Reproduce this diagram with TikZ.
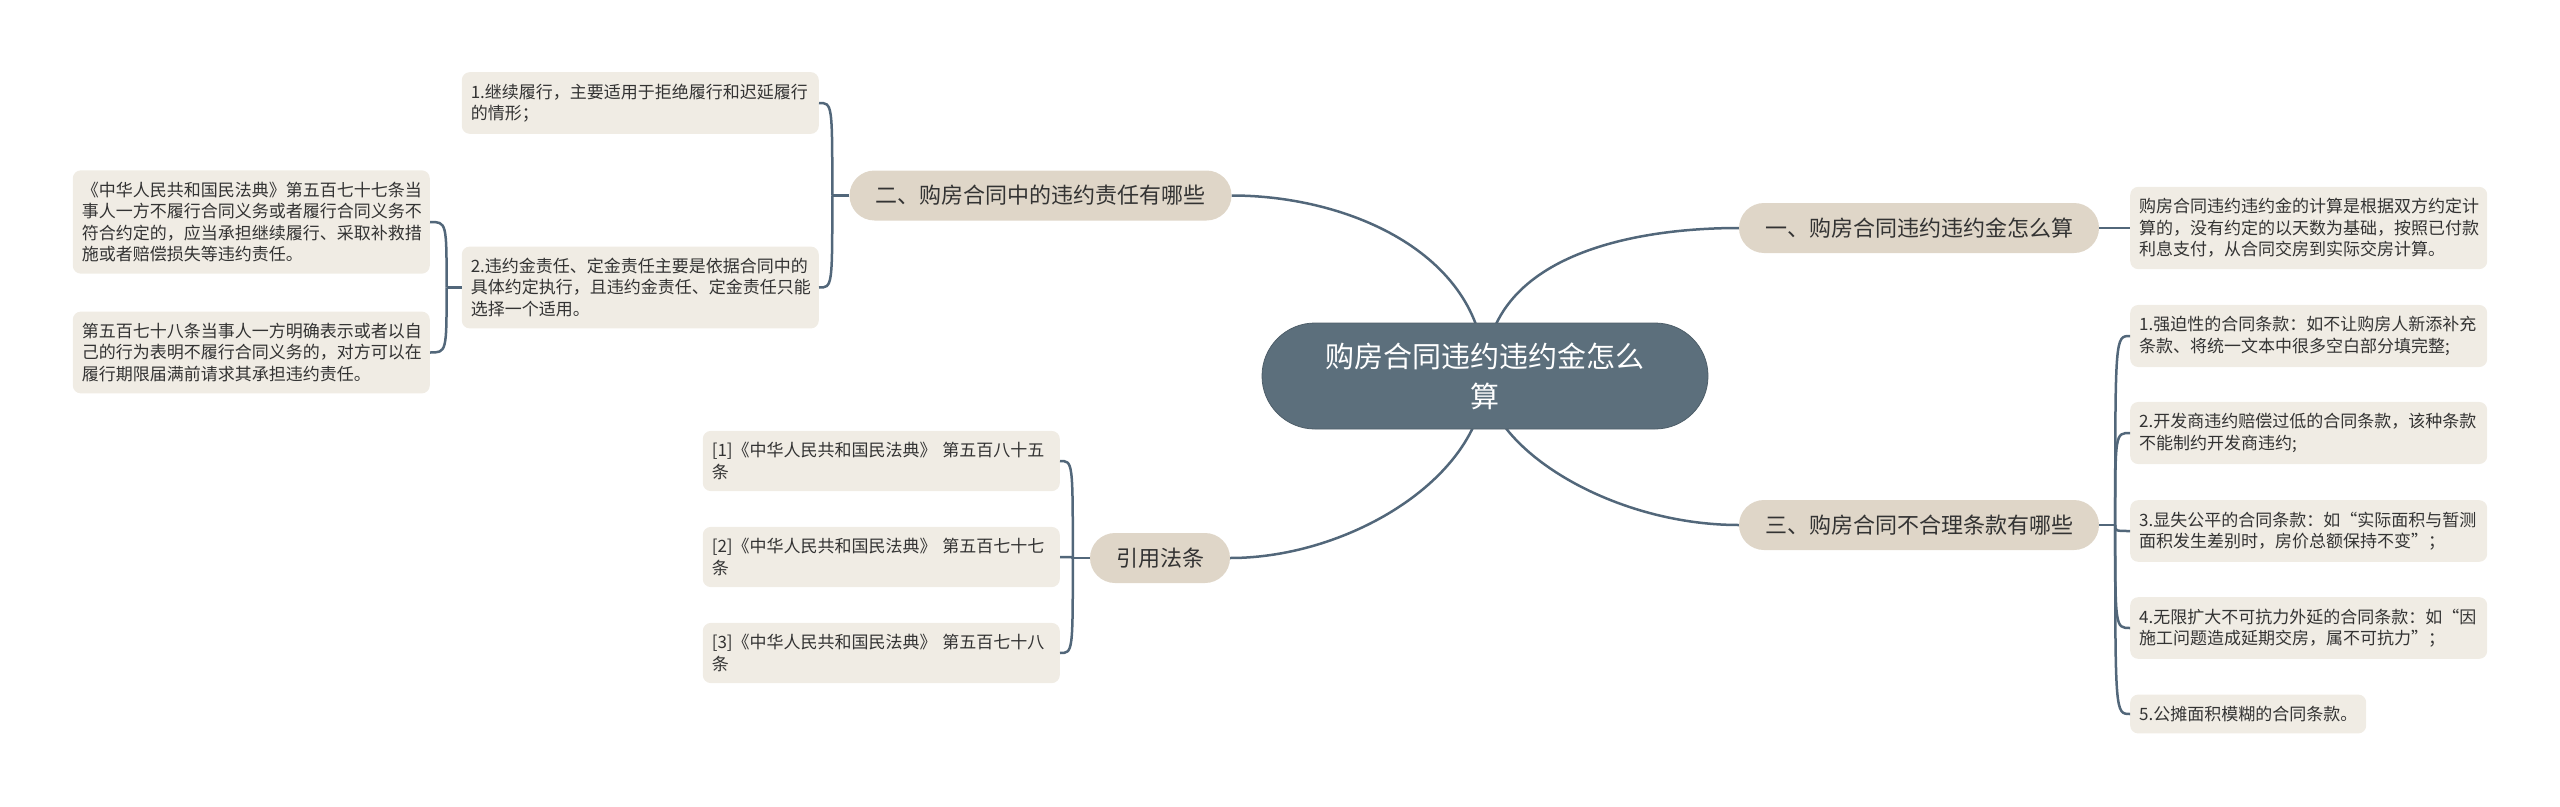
\documentclass[tikz,border=0pt]{standalone}
\usepackage{fontspec}
\setmainfont{Noto Sans CJK SC}
\usepackage{tikz}
\usetikzlibrary{backgrounds}
\usepackage{xcolor}

\definecolor{rootfill}{HTML}{5C6F7C}
\definecolor{branchfill}{HTML}{DFD6C8}
\definecolor{leaffill}{HTML}{F0ECE4}
\definecolor{linkcol}{HTML}{52677A}
\definecolor{textcol}{HTML}{333333}

\begin{document}
\begin{tikzpicture}[
  x=1bp, y=-1bp,
  main_topic/.style={fill=rootfill, draw=rootfill!85!black, line width=0.8bp,
    rounded corners=53bp, minimum width=446bp, minimum height=106bp,
    align=center, text=white, font=\fontsize{29bp}{40bp}\selectfont},
  sub_topic/.style={fill=branchfill, rounded corners=25bp, minimum height=50bp,
    inner xsep=26bp, inner ysep=0pt, text=textcol,
    font=\fontsize{22bp}{26bp}\selectfont},
  leaf_text/.style={fill=leaffill, rounded corners=8bp, text width=339bp,
    align=left, inner xsep=9bp, inner ysep=11.5bp, text=textcol,
    font=\fontsize{17bp}{21.5bp}\selectfont},
  connector/.style={draw=linkcol, line width=2.5bp}
]
\useasboundingbox (0,0) rectangle (2560,807);

% Central topic
\node[main_topic] (root) at (1485,376) {购房合同违约违约金怎么\\算};

% Main branches
\node[sub_topic] (sec1) at (1919,228) {一、购房合同违约违约金怎么算};
\node[sub_topic] (sec2) at (1040.5,195.5) {二、购房合同中的违约责任有哪些};
\node[sub_topic] (sec3) at (1919,525) {三、购房合同不合理条款有哪些};
\node[sub_topic] (cite) at (1160,558) {引用法条};

% Branch one
\node[leaf_text, anchor=west] (s1a) at (2130,228)
  {购房合同违约违约金的计算是根据双方约定计\\算的，没有约定的以天数为基础，按照已付款\\利息支付，从合同交房到实际交房计算。};

% Branch two
\node[leaf_text, anchor=east] (s2a) at (819,103)
  {1.继续履行，主要适用于拒绝履行和迟延履行\\的情形；};
\node[leaf_text, anchor=east] (s2b) at (819,287.5)
  {2.违约金责任、定金责任主要是依据合同中的\\具体约定执行，且违约金责任、定金责任只能\\选择一个适用。};
\node[leaf_text, anchor=east] (s2b1) at (430,222)
  {《中华人民共和国民法典》第五百七十七条当\\事人一方不履行合同义务或者履行合同义务不\\符合约定的，应当承担继续履行、采取补救措\\施或者赔偿损失等违约责任。};
\node[leaf_text, anchor=east] (s2b2) at (430,352.5)
  {第五百七十八条当事人一方明确表示或者以自\\己的行为表明不履行合同义务的，对方可以在\\履行期限届满前请求其承担违约责任。};

% Branch three
\node[leaf_text, anchor=west] (s3a) at (2130,336)
  {1.强迫性的合同条款：如不让购房人新添补充\\条款、将统一文本中很多空白部分填完整;};
\node[leaf_text, anchor=west] (s3b) at (2130,433)
  {2.开发商违约赔偿过低的合同条款，该种条款\\不能制约开发商违约;};
\node[leaf_text, anchor=west] (s3c) at (2130,531)
  {3.显失公平的合同条款：如“实际面积与暂测\\面积发生差别时，房价总额保持不变”；};
\node[leaf_text, anchor=west] (s3d) at (2130,628)
  {4.无限扩大不可抗力外延的合同条款：如“因\\施工问题造成延期交房，属不可抗力”；};
\node[leaf_text, anchor=west, text width=218bp] (s3e) at (2130,714)
  {5.公摊面积模糊的合同条款。};

% Cited articles
\node[leaf_text, anchor=east] (ref1) at (1060,461)
  {[1]《中华人民共和国民法典》 第五百八十五\\条};
\node[leaf_text, anchor=east] (ref2) at (1060,557)
  {[2]《中华人民共和国民法典》 第五百七十七\\条};
\node[leaf_text, anchor=east] (ref3) at (1060,653)
  {[3]《中华人民共和国民法典》 第五百七十八\\条};

% Connectors
\begin{scope}[on background layer]
\draw[connector] (root.center) .. controls +(0,-116) and +(-116,0) .. (sec1.west);
\draw[connector] (root.center) .. controls +(0,-120) and +(120,0) .. (sec2.east);
\draw[connector] (root.center) .. controls +(0,70) and +(-130,0) .. (sec3.west);
\draw[connector] (root.center) .. controls +(0,100) and +(120,0) .. (cite.east);
\end{scope}

\draw[connector] (sec1.east) -- (s1a.west);

\coordinate (t3) at ([xshift=16bp]sec3.east);
\draw[connector] (sec3.east) -- (t3);
\foreach \n in {s3a,s3b,s3c,s3d,s3e}
  \draw[connector] (t3) .. controls (t3 |- \n.west) .. (\n.west);

\coordinate (t2) at ([xshift=-17bp]sec2.west);
\draw[connector] (sec2.west) -- (t2);
\foreach \n in {s2a,s2b}
  \draw[connector] (t2) .. controls (t2 |- \n.east) .. (\n.east);

\coordinate (t2b) at ([xshift=-15bp]s2b.west);
\draw[connector] (s2b.west) -- (t2b);
\foreach \n in {s2b1,s2b2}
  \draw[connector] (t2b) .. controls (t2b |- \n.east) .. (\n.east);

\coordinate (t4) at ([xshift=-17bp]cite.west);
\draw[connector] (cite.west) -- (t4);
\foreach \n in {ref1,ref2,ref3}
  \draw[connector] (t4) .. controls (t4 |- \n.east) .. (\n.east);

\end{tikzpicture}
\end{document}
